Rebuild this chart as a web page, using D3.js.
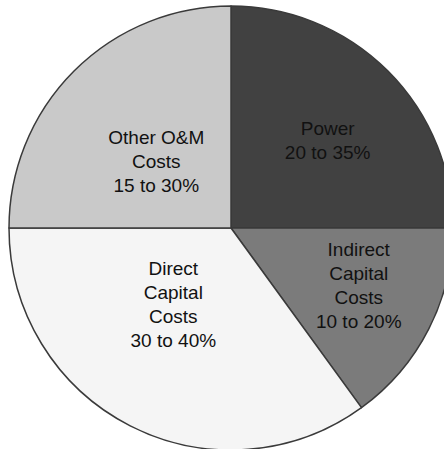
<!DOCTYPE html>
<html>
<head>
<meta charset="utf-8">
<script src="https://cdn.jsdelivr.net/npm/d3@7"></script>
<style>
  body { margin: 0; background: #fff; }
  svg { display: block; }
</style>
</head>
<body>
<div id="container"></div>
<script>
/* DATA */
const categories = ["Power", "Indirect Capital Costs", "Direct Capital Costs", "Other O&M Costs"];
const shares = [25, 15, 35, 25];
const labelLines = [
  ["Power", "20 to 35%"],
  ["Indirect", "Capital", "Costs", "10 to 20%"],
  ["Direct", "Capital", "Costs", "30 to 40%"],
  ["Other O&M", "Costs", "15 to 30%"]
];
const fills = ["#414141", "#7b7b7b", "#f5f5f5", "#c9c9c9"];

/* CONSTANTS */
const width = 444,
  height = 449,
  cx = 231,
  cy = 228,
  radius = 222,
  lineGap = 24;

// label placement: radius of label ring and small nudges per slice
const labelR = [131, 140, 105, 100];
const nudge = [[4, 5], [3, -6], [-10, -17], [-4, 4]];

const data = categories.map((c, i) => ({ name: c, value: shares[i], lines: labelLines[i], i }));

const svg = d3.select("#container").append("svg")
  .attr("width", width)
  .attr("height", height);

const g = svg.append("g")
  .attr("transform", `translate(${cx},${cy})`);

const pie = d3.pie()
  .value(d => d.value)
  .sort(null);

const arc = d3.arc()
  .innerRadius(0)
  .outerRadius(radius);

const arcs = pie(data);

g.selectAll("path.slice")
  .data(arcs)
  .join("path")
  .attr("class", "slice")
  .attr("d", arc)
  .attr("fill", d => fills[d.data.i])
  .attr("stroke", "#3a3a3a")
  .attr("stroke-width", 1.5)
  .attr("stroke-linejoin", "round");

const labels = g.selectAll("text.label")
  .data(arcs)
  .join("text")
  .attr("class", "label")
  .attr("transform", d => {
    const r = labelR[d.data.i];
    const c = d3.arc().innerRadius(r).outerRadius(r).centroid(d);
    const n = nudge[d.data.i];
    return `translate(${c[0] + n[0]},${c[1] + n[1]})`;
  })
  .attr("text-anchor", "middle")
  .style("font-family", "'Liberation Sans', Arial, sans-serif")
  .style("font-size", "19px")
  .attr("fill", "#111");

labels.selectAll("tspan")
  .data(d => d.data.lines.map((t, k, arr) => ({ t, k, n: arr.length })))
  .join("tspan")
  .attr("x", 0)
  .attr("y", d => (d.k - (d.n - 1) / 2) * lineGap)
  .attr("dy", "0.35em")
  .text(d => d.t);
</script>
</body>
</html>
